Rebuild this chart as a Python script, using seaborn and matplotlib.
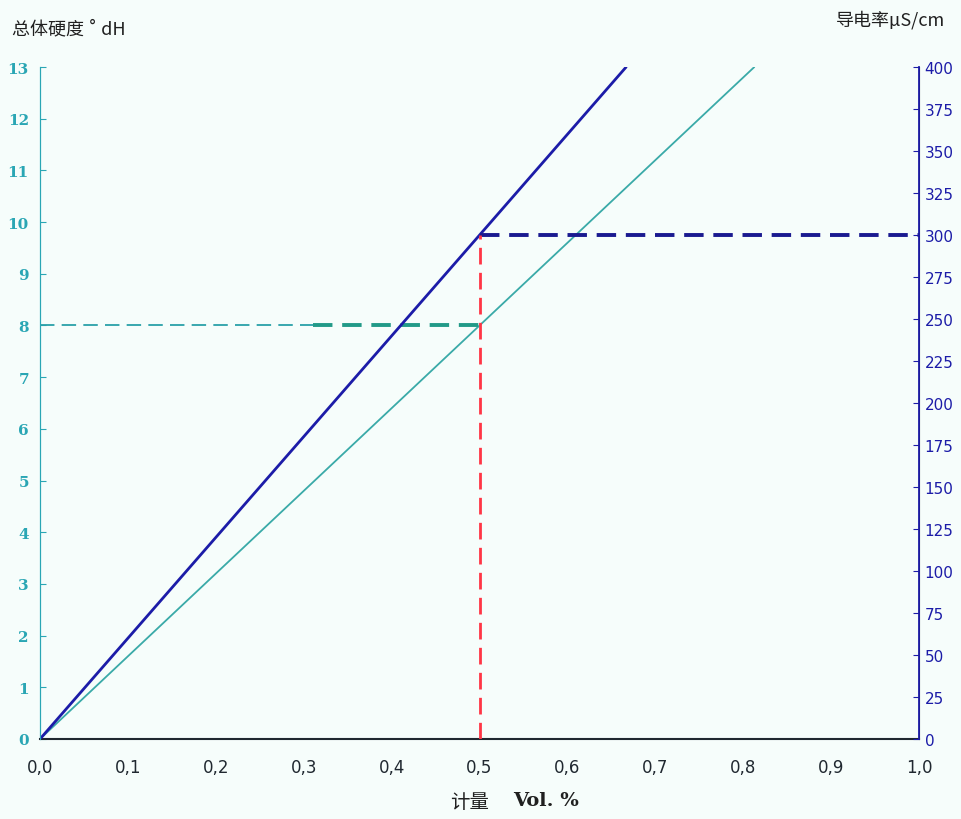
import matplotlib
matplotlib.use("Agg")
import matplotlib.pyplot as plt
from matplotlib.ticker import MultipleLocator, FuncFormatter
import seaborn as sns
import pandas as pd

# data
dose = [0.0, 0.6667]          # Vol. %
conductivity = [0, 400]       # µS/cm
dose_h = [0.0, 0.8125]
hardness = [0, 13]            # °dH
target_dose = 0.5
target_hardness = 8
target_cond = 300
split_dose = 0.31

sns.set_style("white")
plt.rcParams['font.family'] = ['Noto Sans CJK SC', 'DejaVu Sans']

bg = "#f6fdfb"
teal = "#2aa6b4"
navy = "#1c1ca8"

fig = plt.figure(figsize=(9.62, 8.2), dpi=100, facecolor=bg)
ax = fig.add_axes([0.0416, 0.0976, 0.9138, 0.8194], facecolor=bg)
ax2 = ax.twinx()

df_h = pd.DataFrame({"dose": dose_h, "val": hardness})
df_c = pd.DataFrame({"dose": dose, "val": conductivity})

sns.lineplot(data=df_h, x="dose", y="val", ax=ax, color="#3aaaa8", lw=1.3)
sns.lineplot(data=df_c, x="dose", y="val", ax=ax2, color=navy, lw=2)

# guide lines
ax.plot([0, split_dose], [target_hardness] * 2, ls=(0, (8, 4)), color="#2aa0a8", lw=1.3)
ax.plot([split_dose, target_dose], [target_hardness] * 2, ls=(0, (5, 2.5)), color="#229a88", lw=2.8)
ax2.plot([target_dose, 1.0], [target_cond] * 2, ls=(0, (5, 2.5)), color="#1a1a90", lw=2.8)
ax2.plot([target_dose, target_dose], [0, target_cond], ls=(0, (6, 3)), color="#ff3545", lw=2)

ax.set_xlim(0, 1)
ax.set_ylim(0, 13)
ax2.set_ylim(0, 400)
ax.set_xlabel("")
ax.set_ylabel("")
ax2.set_ylabel("")

ax.xaxis.set_major_locator(MultipleLocator(0.1))
ax.xaxis.set_minor_locator(MultipleLocator(0.05))
ax.xaxis.set_major_formatter(FuncFormatter(lambda v, p: f"{v:.1f}".replace(".", ",")))
ax.yaxis.set_major_locator(MultipleLocator(1))
ax2.yaxis.set_major_locator(MultipleLocator(25))

for s in ["top"]:
    ax.spines[s].set_visible(False)
    ax2.spines[s].set_visible(False)
ax.spines["bottom"].set_color("#202830")
ax.spines["bottom"].set_linewidth(1.5)
ax.spines["left"].set_color(teal)
ax2.spines["left"].set_color(teal)
ax2.spines["right"].set_color(navy)
ax2.spines["right"].set_linewidth(1.3)
ax2.spines["bottom"].set_visible(False)

ax.tick_params(axis="x", which="both", direction="in", length=5, width=1.3,
               colors="#202830", labelsize=12, pad=10)
ax.tick_params(axis="x", which="major", direction="inout", length=8)
for t in ax.get_xticklabels():
    t.set_fontfamily("DejaVu Sans")
ax.tick_params(axis="y", direction="in", length=4, colors=teal, labelsize=11, pad=8)
for t in ax.get_yticklabels():
    t.set_fontfamily("DejaVu Serif")
    t.set_fontweight("bold")
ax2.tick_params(axis="y", direction="in", length=4, colors=navy, labelsize=11, pad=4)
for t in ax2.get_yticklabels():
    t.set_fontfamily("DejaVu Sans")

fig.text(0.012, 0.964, "总体硬度 ˚ dH", fontsize=13, ha="left", va="center",
         color="#202020", weight="medium")
fig.text(0.982, 0.975, "导电率µS/cm", fontsize=13, ha="right", va="center",
         color="#202020", weight="medium")
fig.text(0.488, 0.021, "计量", fontsize=14, ha="center", va="center",
         color="#202020", weight="medium")
fig.text(0.568, 0.023, "Vol. %", fontsize=14, ha="center", va="center", color="#202020",
         family="DejaVu Serif", weight="bold")

fig.savefig("out.png", dpi=100, facecolor=bg)
